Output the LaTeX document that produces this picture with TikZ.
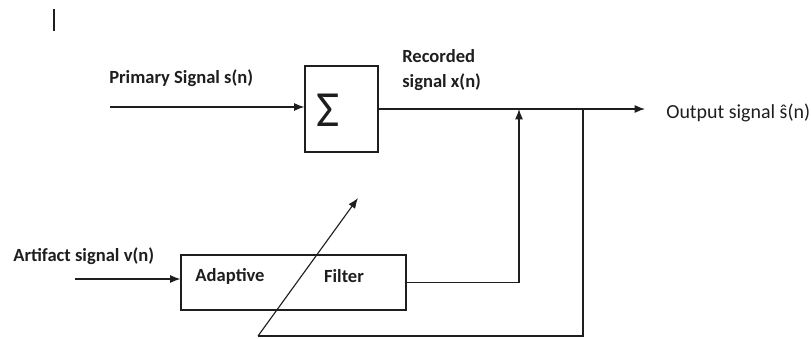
\documentclass[tikz,border=0pt]{standalone}
\usepackage{fontspec}
\setmainfont{Carlito}
\usepackage{xcolor}
\definecolor{ink}{RGB}{30, 30, 30}
\usepackage{tikz}
\usetikzlibrary{positioning,arrows.meta}

\begin{document}
\begin{tikzpicture}[
        box/.style={rectangle, draw=ink, line width=0.8pt, inner sep=0pt},
        lbl/.style={font=\fontsize{13.2}{18.4}\selectfont\bfseries, text=ink, inner sep=0pt, align=left},
        arr/.style={-{Latex[length=2.6mm,width=2mm]}, line width=0.8pt, ink},
        wire/.style={line width=0.8pt, ink}
    ]
    \useasboundingbox (0,0) rectangle (20.275,8.45);
    \draw[wire] (1.35,8.225) -- (1.35,7.675);
    % summing block
    \node[box, minimum width=1.825cm, minimum height=2.15cm] (sum) at (8.5375,5.725) {};
    \node[font=\fontsize{36}{38}\selectfont, text=ink, inner sep=0pt] (sigma) at (8.2,5.7) {Σ};
    % adaptive filter block
    \node[box, minimum width=5.625cm, minimum height=1.375cm] (filt) at (7.3375,1.3875) {};
    \node[lbl] (adapt) at (5.75,1.55) {Adaptive};
    \node[lbl] (filter) at (8.6,1.55) {Filter};
    % labels
    \node[lbl, anchor=west] (prim) at (2.725,6.5) {Primary Signal s(n)};
    \node[lbl, anchor=west] (rec) at (10.05,6.7) {Recorded\\signal x(n)};
    \node[lbl, anchor=west] (art) at (0.325,2.05) {Artifact signal v(n)};
    \node[lbl, font=\fontsize{14.2}{16}\selectfont, anchor=west] (outlbl) at (16.65,5.625) {Output signal ŝ(n)};
    % free ends and taps
    \coordinate (pin) at (2.75,5.775);
    \coordinate (ain) at (1.875,1.475);
    \coordinate (tap1) at (12.975,5.725);
    \coordinate (tap2) at (14.575,5.725);
    \coordinate (out) at (16.125,5.725);
    \coordinate (corner) at (14.575,0.05);
    \coordinate (tail) at (6.45,0.05);
    \coordinate (tip) at (8.95,3.5);
    % connectors
    \draw[arr] (pin) -- (pin -| sum.west);
    \draw[arr] (sum.east |- out) -- (out);
    \draw[arr] (ain) -- (ain -| filt.west);
    \draw[arr] (filt.east) -| (tap1);
    \draw[wire] (tap2) -- (corner) -- (tail);
    \draw[arr] (tail) -- (tip);
\end{tikzpicture}
\end{document}
